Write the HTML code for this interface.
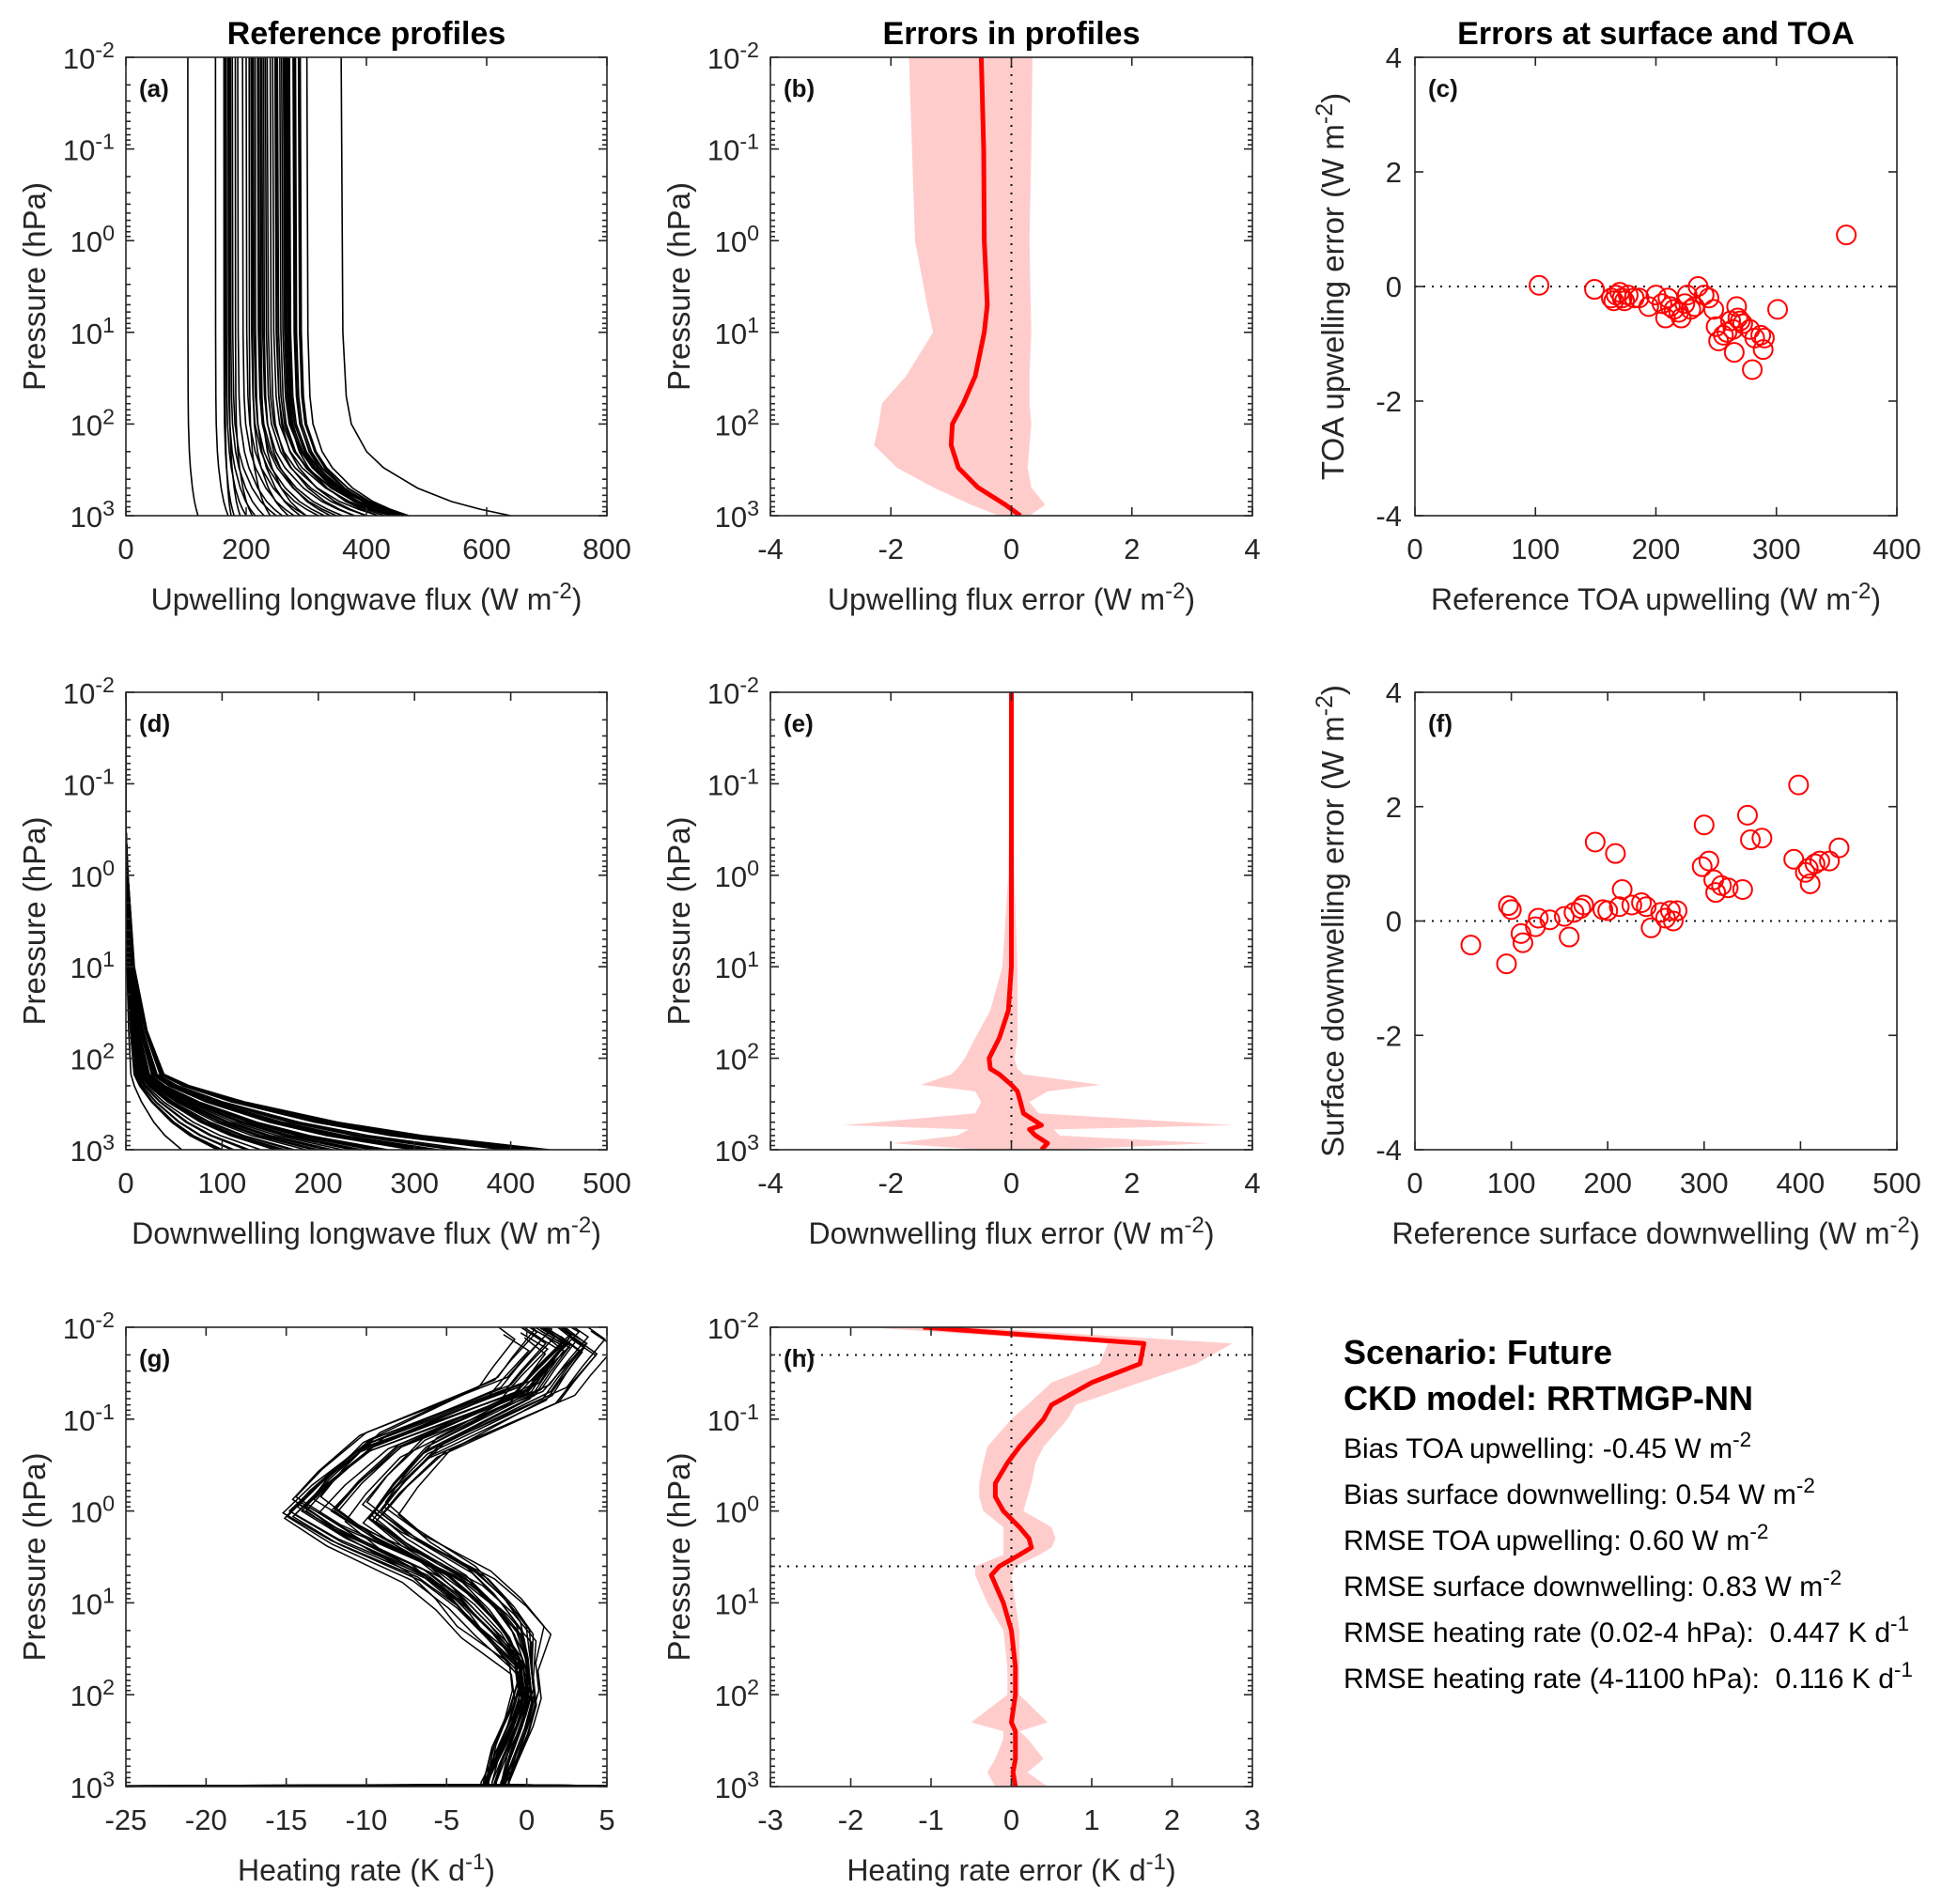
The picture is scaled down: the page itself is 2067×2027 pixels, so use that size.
<!DOCTYPE html>
<html><head><meta charset="utf-8"><style>
html,body{margin:0;padding:0;background:#fff}
svg{display:block;font-family:"Liberation Sans",Arial,sans-serif}
</style></head><body>
<svg id="fig" width="2067" height="2027" viewBox="0 0 2067 2027" xmlns="http://www.w3.org/2000/svg" xml:space="preserve"></svg>
<script>
// ---------- DATA ----------
const upProfLevels = [0.01, 10, 50, 100, 200, 300, 500, 700, 850, 1000];
const upProfFrac   = [0, 0.01, 0.03, 0.06, 0.15, 0.25, 0.45, 0.65, 0.82, 1];
const upToa = [103,149,163,165,167,170,172,174,177,182,186,194,200,205,208,210,212,215,219,221,224,226,229,232,235,240,244,248,250,252,256,259,262,264,265,267,268,270,272,278,280,282,287,289,290,301,358];
const upSfc = [120,170,180,175,200,215,190,230,250,210,260,280,300,240,320,270,330,290,350,360,300,380,340,400,420,380,440,460,400,450,430,470,455,465,420,440,470,450,460,465,445,460,470,455,465,470,640];
const upErrMean = [-0.5,-0.46,-0.45,-0.4,-0.45,-0.6,-0.8,-0.98,-1.0,-0.88,-0.56,-0.1,0.15];
const upErrLow  = [-1.7,-1.65,-1.6,-1.4,-1.3,-1.75,-2.15,-2.2,-2.28,-1.9,-1.3,-0.67,-0.2];
const upErrHigh = [0.35,0.33,0.3,0.32,0.33,0.3,0.3,0.33,0.3,0.27,0.33,0.56,0.3];
const upErrP    = [0.01,0.1,1,5,10,30,60,100,170,300,490,760,1000];

const dnProfLevels = [0.01,0.3,1,10,50,100,150,200,300,500,700,1000];
const dnProfFrac   = [0,0,0.005,0.02,0.05,0.075,0.09,0.15,0.28,0.5,0.7,1];
const dnSfc = [58,95,97,100,110,112,125,128,140,155,160,165,172,175,187,195,200,208,212,215,225,235,240,245,255,260,265,268,272,298,300,305,310,312,318,325,340,345,348,360,393,398,405,408,410,415,420,430,440];
const dnErr = [-0.42,-0.75,0.27,0.2,-0.22,-0.38,-0.1,0.05,0.02,0.08,-0.28,0.15,0.22,0.28,1.38,0.2,0.18,1.18,0.25,0.55,0.28,0.32,0.25,-0.12,0.15,0.05,0.18,0.0,0.18,0.95,1.68,1.05,0.72,0.5,0.62,0.58,0.55,1.85,1.42,1.45,1.08,2.38,0.85,0.92,0.65,1.0,1.05,1.05,1.28];
const dnErrP    = [0.01,1,10,30,60,100,130,150,195,230,300,400,540,600,700,850,1000];
const dnErrMean = [0,0,0,-0.05,-0.2,-0.37,-0.35,-0.2,0.0,0.1,0.15,0.2,0.5,0.3,0.4,0.6,0.5];
const dnErrLow  = [-0.02,-0.05,-0.15,-0.35,-0.6,-0.77,-0.9,-1.0,-1.5,-0.6,-0.5,-0.6,-2.78,-0.7,-0.9,-1.97,-0.5];
const dnErrHigh = [0.02,0.05,0.1,0.1,0.1,0.05,0.1,0.2,1.48,0.6,0.3,0.45,3.7,0.7,0.8,3.3,0.8];

const upErr = [0.02,-0.05,-0.2,-0.25,-0.15,-0.1,-0.2,-0.25,-0.15,-0.2,-0.2,-0.35,-0.15,-0.3,-0.55,-0.2,-0.35,-0.4,-0.45,-0.55,-0.3,-0.15,-0.4,-0.35,0.0,-0.15,-0.2,-0.4,-0.7,-0.95,-0.85,-0.8,-0.6,-0.75,-1.15,-0.35,-0.55,-0.6,-0.65,-0.75,-1.45,-0.9,-0.85,-1.1,-0.9,-0.4,0.9];

const hrP    = [0.01,0.015,0.03,0.05,0.1,0.2,0.5,1,2,5,10,20,50,100,200,500,900,950,980,1000];
const hrBase = [1,2.5,1,0,-4,-8,-10.5,-12,-9.5,-5,-3,-1.5,-0.2,0,-0.5,-1.5,-2,-2,0,-2];
const hrScale = [1,0.9,1.1,0.85,1.15,0.95,1.05,0.88,1.12,0.8,1.2,1,0.9,1.1,0.82,1.18,0.95,1.05,0.88,1.12,1,0.92,1.08,0.86,1.14,0.97,1.03,0.84,1.16,1,0.9,1.1,0.86,1.14,1.2,0.8,1.02,0.98];
const hrShift = [0,1,-1,0.5,-0.5,2,-2,1.5,-1.5,0.8,-0.8,0,1.2,-1.2,0.3,-0.3,2.5,-2.5,0.6,-0.6,1.8,-1.8,0,0.9,-0.9,1.4,-1.4,0.2,-0.2,3,-3,1,-1,0.4,-0.4,1.6,-1.6,0];
const hrPf = [1,1.2,0.85,1.1,0.9,1.3,0.75,1,1.15,0.8,1.05,0.95,1.25,0.7,1,1.1,0.9,1.2,0.8,1,1.35,0.7,1.05,0.95,1.15,0.85,1,1.2,0.8,1.1,0.9,1,1.3,0.75,1,1.1,0.9,1];
const hrSpike = [-25,3,-5,5,-18,-2,-12,4,0,-22,2,-3,5,-8,-1,-25,1,-15,3,-6,5,-2,-20,0,4,-10,-1,5,-24,2,-4,-14,3,-2,5,-9,0,-17];

const hrErrP    = [0.01,0.015,0.025,0.04,0.07,0.1,0.2,0.3,0.5,0.7,1,1.5,2,2.5,3,4,5,10,20,50,100,200,250,300,500,700,1000];
const hrErrMean = [-1.1,1.65,1.6,1.0,0.5,0.4,0.1,-0.05,-0.2,-0.2,-0.1,0.1,0.22,0.25,0.1,-0.15,-0.25,-0.1,0.0,0.05,0.05,0.0,0.05,0.05,0.05,0.02,0.05];
const hrErrLow  = [-1.8,1.2,1.1,0.5,0.2,0.0,-0.3,-0.35,-0.4,-0.4,-0.35,-0.1,-0.1,-0.1,-0.1,-0.45,-0.45,-0.3,-0.1,-0.05,-0.05,-0.5,-0.1,-0.1,-0.2,-0.3,-0.2];
const hrErrHigh = [-0.5,2.75,2.3,1.6,0.8,0.7,0.4,0.3,0.25,0.2,0.15,0.5,0.55,0.5,0.35,0.05,0.0,0.05,0.1,0.1,0.1,0.45,0.1,0.2,0.4,0.2,0.45];

const xTicksA=[0,200,400,600,800], xTicksB=[-4,-2,0,2,4], xTicksC=[0,100,200,300,400];
const xTicksD=[0,100,200,300,400,500], xTicksF=[0,100,200,300,400,500];
const xTicksG=[-25,-20,-15,-10,-5,0,5], xTicksH=[-3,-2,-1,0,1,2,3], yTicksC=[-4,-2,0,2,4];
const decades=[-2,-1,0,1,2,3];

// ---------- LAYOUT ----------
const NS="http://www.w3.org/2000/svg";
const svg=document.getElementById('fig');
const COLS=[[134,646],[820,1333],[1506,2019]];
const ROWS=[[61,549],[737,1224],[1413,1902]];
function el(tag,attrs,parent){const e=document.createElementNS(NS,tag);for(const k in attrs)e.setAttribute(k,attrs[k]);(parent||svg).appendChild(e);return e;}
function txt(s,x,y,o,parent){const t=el('text',Object.assign({x:x,y:y,'font-size':27,fill:'#262626'},o||{}),parent);t.textContent=s;return t;}
function supText(parent,x,y,base,sup,anchor,fs){
  const t=el('text',{x:x,y:y,'font-size':fs||27,fill:'#262626','text-anchor':anchor||'middle'},parent);
  const a=el('tspan',{},t);a.textContent=base;
  const b=el('tspan',{dy:-12,'font-size':(fs||27)*0.75},t);b.textContent=sup;
  return t;
}
function makePanel(name,col,row,xd,logY,yd){
  const g=el('g',{});
  
  
  const [x0,x1]=COLS[col],[y0,y1]=ROWS[row];
  const sx=v=>x0+(v-xd[0])/(xd[1]-xd[0])*(x1-x0);
  const sy=logY?(p=>y0+(Math.log10(p)+2)/5*(y1-y0)):(v=>y1-(v-yd[0])/(yd[1]-yd[0])*(y1-y0));
  const clip=el('clipPath',{id:'clip-'+name},g);el('rect',{x:x0,y:y0,width:x1-x0,height:y1-y0},clip);
  const plot=el('g',{'clip-path':'url(#clip-'+name+')'},g);
  
  
  return {g,plot,sx,sy,x0,x1,y0,y1,logY};
}
function finishAxes(P,xt,xl,yl,yt){
  const {g,x0,x1,y0,y1,sx,sy}=P;
  const ax=el('g',{stroke:'#262626','stroke-width':1.6,fill:'none'},g);
  
  
  el('rect',{x:x0,y:y0,width:x1-x0,height:y1-y0},ax);
  xt.forEach(v=>{const x=sx(v);el('line',{x1:x,y1:y1,x2:x,y2:y1-9},ax);el('line',{x1:x,y1:y0,x2:x,y2:y0+9},ax);
    const t=txt(String(v),x,y1+46,{'text-anchor':'middle','font-size':31},g);
    
    });
  if(P.logY){
    decades.forEach(d=>{const y=sy(Math.pow(10,d));el('line',{x1:x0,y1:y,x2:x0+9,y2:y},ax);el('line',{x1:x1,y1:y,x2:x1-9,y2:y},ax);
      if(d<3)for(let m=2;m<10;m++){const yy=sy(m*Math.pow(10,d));el('line',{x1:x0,y1:yy,x2:x0+5,y2:yy},ax);el('line',{x1:x1,y1:yy,x2:x1-5,y2:yy},ax);}
      const t=supText(g,x0-12,y+12,'10',String(d),'end',31);
      
      });
  } else {
    yt.forEach(v=>{const y=sy(v);el('line',{x1:x0,y1:y,x2:x0+9,y2:y},ax);el('line',{x1:x1,y1:y,x2:x1-9,y2:y},ax);
      const t=txt(String(v),x0-14,y+11,{'text-anchor':'end','font-size':31},g);
      
      });
  }
  const xlab=supText(g,(x0+x1)/2,y1+100,xl[0],xl[1],'middle',32);
  if(xl[2]){const ts=el('tspan',{dy:12},xlab);ts.textContent=xl[2];}
  
  
  const yx=x0-(P.logY?86:76),yy=(y0+y1)/2;
  const ylab=el('text',{x:0,y:0,'font-size':33,fill:'#262626','text-anchor':'middle',transform:`translate(${yx},${yy}) rotate(-90)`},g);
  const a=el('tspan',{},ylab);a.textContent=yl[0];
  if(yl[1]){const b=el('tspan',{dy:-12,'font-size':25},ylab);b.textContent=yl[1];const c=el('tspan',{dy:12},ylab);c.textContent=yl[2];}
  
  
}
function panelLabel(P,s){const t=txt(s,P.x0+14,P.y0+42,{'font-weight':'bold','font-size':26,fill:'#111'},P.g);
  
  }
function band(P,ps,lo,hi,name){
  let d='';ps.forEach((p,i)=>{d+=(i?'L':'M')+P.sx(lo[i])+','+P.sy(p);});
  for(let i=ps.length-1;i>=0;i--)d+='L'+P.sx(hi[i])+','+P.sy(ps[i]);
  const e=el('path',{d:d+'Z',fill:'#ffcccc',stroke:'none'},P.plot);
  
  
}
function meanLine(P,ps,vs,name){
  const e=el('polyline',{points:ps.map((p,i)=>P.sx(vs[i])+','+P.sy(p)).join(' '),fill:'none',stroke:'#ff0000','stroke-width':5,'stroke-linejoin':'round'},P.plot);
  
  
}
function dotV(P,v){el('line',{x1:P.sx(v),y1:P.y0,x2:P.sx(v),y2:P.y1,stroke:'#111','stroke-width':2,'stroke-dasharray':'2,7'},P.plot);}
function dotH(P,y){el('line',{x1:P.x0,y1:y,x2:P.x1,y2:y,stroke:'#111','stroke-width':2,'stroke-dasharray':'2,7'},P.plot);}

// column titles
[['Reference profiles',0],['Errors in profiles',1],['Errors at surface and TOA',2]].forEach(([s,c])=>{
  const t=txt(s,(COLS[c][0]+COLS[c][1])/2,47,{'text-anchor':'middle','font-weight':'bold','font-size':34,fill:'#000'});
  
  
});

// (a)
let P=makePanel('panel-a-upwelling-profiles',0,0,[0,800],true);
upToa.forEach((toa,i)=>{
  const pts=upProfLevels.map((p,k)=>P.sx(toa+(upSfc[i]-toa)*upProfFrac[k])+','+P.sy(p)).join(' ');
  const e=el('polyline',{points:pts,fill:'none',stroke:'#000','stroke-width':1.6},P.plot);
  
  
});
finishAxes(P,xTicksA,['Upwelling longwave flux (W m','-2',')'],['Pressure (hPa)']);panelLabel(P,'(a)');

// (b)
P=makePanel('panel-b-upwelling-error',1,0,[-4,4],true);
band(P,upErrP,upErrLow,upErrHigh,'error-range-band');dotV(P,0);meanLine(P,upErrP,upErrMean,'mean-error-line');
finishAxes(P,xTicksB,['Upwelling flux error (W m','-2',')'],['Pressure (hPa)']);panelLabel(P,'(b)');

// (c)
P=makePanel('panel-c-toa-scatter',2,0,[0,400],false,[-4,4]);
dotH(P,P.sy(0));
upToa.forEach((x,i)=>{const c=el('circle',{cx:P.sx(x),cy:P.sy(upErr[i]),r:10,fill:'none',stroke:'#ff0000','stroke-width':2},P.plot);
  
  });
finishAxes(P,xTicksC,['Reference TOA upwelling (W m','-2',')'],['TOA upwelling error (W m','-2',')'],yTicksC);panelLabel(P,'(c)');

// (d)
P=makePanel('panel-d-downwelling-profiles',0,1,[0,500],true);
dnSfc.forEach(s=>{
  const pts=dnProfLevels.map((p,k)=>P.sx(s*dnProfFrac[k])+','+P.sy(p)).join(' ');
  const e=el('polyline',{points:pts,fill:'none',stroke:'#000','stroke-width':1.6},P.plot);
  
  
});
finishAxes(P,xTicksD,['Downwelling longwave flux (W m','-2',')'],['Pressure (hPa)']);panelLabel(P,'(d)');

// (e)
P=makePanel('panel-e-downwelling-error',1,1,[-4,4],true);
band(P,dnErrP,dnErrLow,dnErrHigh,'error-range-band');dotV(P,0);meanLine(P,dnErrP,dnErrMean,'mean-error-line');
finishAxes(P,xTicksB,['Downwelling flux error (W m','-2',')'],['Pressure (hPa)']);panelLabel(P,'(e)');

// (f)
P=makePanel('panel-f-surface-scatter',2,1,[0,500],false,[-4,4]);
dotH(P,P.sy(0));
dnSfc.forEach((x,i)=>{const c=el('circle',{cx:P.sx(x),cy:P.sy(dnErr[i]),r:10,fill:'none',stroke:'#ff0000','stroke-width':2},P.plot);
  
  });
finishAxes(P,xTicksF,['Reference surface downwelling (W m','-2',')'],['Surface downwelling error (W m','-2',')'],yTicksC);panelLabel(P,'(f)');

// (g)
P=makePanel('panel-g-heating-rate-profiles',0,2,[-25,5],true);
hrScale.forEach((s,i)=>{
  const pts=hrP.map((p,k)=>{
    let v=hrBase[k]*s+hrShift[i]*(k<12?1:0.3);
    if(k===18)v=hrSpike[i];
    const pp=k>=16?p:Math.min(900,p*hrPf[i]);
    return P.sx(v)+','+P.sy(pp);}).join(' ');
  const e=el('polyline',{points:pts,fill:'none',stroke:'#000','stroke-width':1.5},P.plot);
  
  
});
finishAxes(P,xTicksG,['Heating rate (K d','-1',')'],['Pressure (hPa)']);panelLabel(P,'(g)');

// (h)
P=makePanel('panel-h-heating-rate-error',1,2,[-3,3],true);
band(P,hrErrP,hrErrLow,hrErrHigh,'error-range-band');dotV(P,0);dotH(P,P.sy(0.02));dotH(P,P.sy(4));
meanLine(P,hrErrP,hrErrMean,'mean-error-line');
finishAxes(P,xTicksH,['Heating rate error (K d','-1',')'],['Pressure (hPa)']);panelLabel(P,'(h)');

// stats text
const stats=el('g',{});


txt('Scenario: Future',1430,1452,{'font-weight':'bold','font-size':36,fill:'#000'},stats);
txt('CKD model: RRTMGP-NN',1430,1501,{'font-weight':'bold','font-size':36,fill:'#000'},stats);
[['Bias TOA upwelling: -0.45 W m','-2',1552],['Bias surface downwelling: 0.54 W m','-2',1601],['RMSE TOA upwelling: 0.60 W m','-2',1650],
 ['RMSE surface downwelling: 0.83 W m','-2',1699],['RMSE heating rate (0.02-4 hPa):\u00a0 0.447 K d','-1',1748],['RMSE heating rate (4-1100 hPa):\u00a0 0.116 K d','-1',1797]]
.forEach(([a,b,y])=>{const t=supText(stats,1430,y,a,b,'start',30);t.setAttribute('fill','#000');});
</script>
</body></html>
